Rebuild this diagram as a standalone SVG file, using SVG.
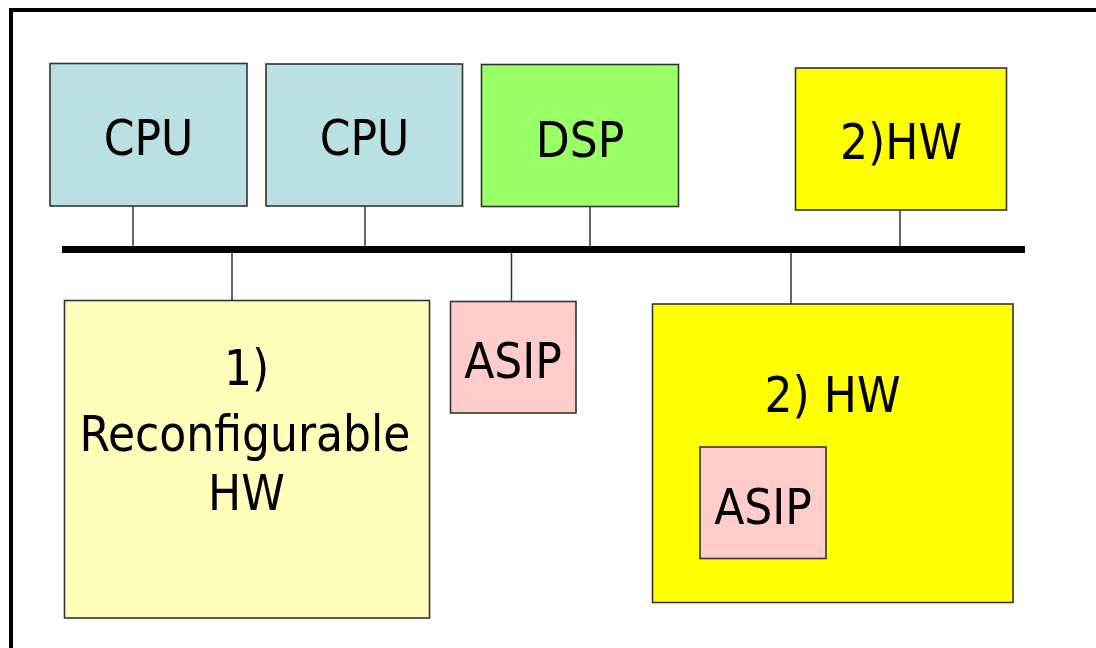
<svg xmlns="http://www.w3.org/2000/svg" width="1096" height="648" viewBox="0 0 1096 648">
<style>
.box{stroke:#333;stroke-width:1.6}
.cpu{fill:#BBE0E3}
.dsp{fill:#99FF66}
.hw{fill:#FFFF00}
.rc{fill:#FFFFBB}
.asip{fill:#FFCCCC}
.lbl{font-family:'DejaVu Sans Condensed','DejaVu Sans',sans-serif;font-stretch:condensed;font-size:49px;fill:#000;text-anchor:middle}
.wire{stroke:#333;stroke-width:1.5;fill:none}
</style>
<rect x="0" y="0" width="1096" height="648" fill="#fff"/>
<rect id="frame" x="11" y="10" width="1200" height="800" fill="none" stroke="#000" stroke-width="4"/>
<g id="connectors">
<rect id="bus" x="62" y="246" width="963" height="7" fill="#000"/>
<line class="wire" x1="133" y1="206" x2="133" y2="246"/>
<line class="wire" x1="365" y1="206" x2="365" y2="246"/>
<line class="wire" x1="590" y1="207" x2="590" y2="246"/>
<line class="wire" x1="900" y1="210" x2="900" y2="246"/>
<line class="wire" x1="232" y1="253" x2="232" y2="300"/>
<line class="wire" x1="511.5" y1="253" x2="511.5" y2="301"/>
<line class="wire" x1="791" y1="253" x2="791" y2="304"/>
</g>
<g id="cpu1"><rect class="box cpu" x="50" y="63.5" width="197" height="142.5"/><text class="lbl" x="148.5" y="155">CPU</text></g>
<g id="cpu2"><rect class="box cpu" x="266" y="64" width="196.5" height="142"/><text class="lbl" x="364.5" y="155">CPU</text></g>
<g id="dsp"><rect class="box dsp" x="481.5" y="64.5" width="197" height="142"/><text class="lbl" x="580" y="157">DSP</text></g>
<g id="hw-top"><rect class="box hw" x="795.5" y="68" width="211" height="142"/><text class="lbl" x="901" y="159">2)HW</text></g>
<g id="reconfig"><rect class="box rc" x="64.5" y="300.5" width="365" height="317.5"/><text class="lbl" x="246.5" y="385">1)</text><text class="lbl" x="245" y="451">Reconfigurable</text><text class="lbl" x="246.5" y="510">HW</text></g>
<g id="asip"><rect class="box asip" x="450.5" y="301.5" width="125.5" height="111.5"/><text class="lbl" x="513" y="378">ASIP</text></g>
<g id="hw-big"><rect class="box hw" x="652.5" y="304" width="360.5" height="298.5"/><text class="lbl" x="832.5" y="412">2) HW</text>
<g id="asip-inner"><rect class="box asip" x="700" y="447" width="126" height="111.5"/><text class="lbl" x="763" y="524">ASIP</text></g></g>
</svg>
